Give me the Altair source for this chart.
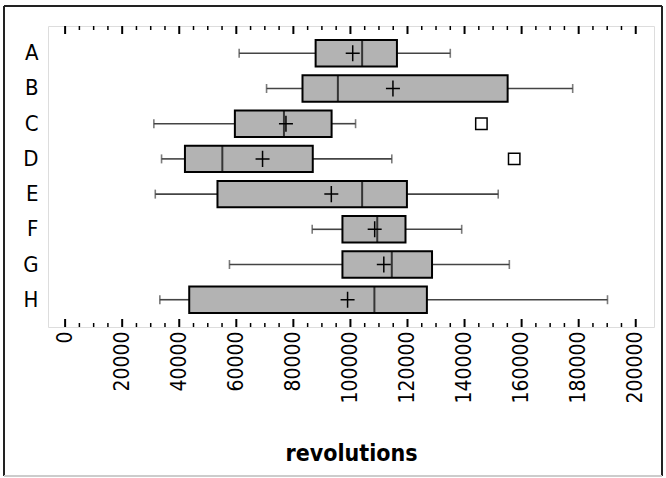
import altair as alt
import pandas as pd

categories = ["A", "B", "C", "D", "E", "F", "G", "H"]
whisker_low = [61000, 70600, 31100, 33800, 31600, 86600, 57600, 33200]
q1 = [87800, 83200, 59500, 42000, 53400, 97200, 97200, 43500]
median = [104100, 95600, 76700, 55100, 104100, 109400, 114500, 108400]
q3 = [116300, 155100, 93400, 86800, 119800, 119300, 128600, 126800]
whisker_high = [135000, 177900, 101800, 114500, 151800, 139000, 155700, 190100]
mean = [100800, 114900, 77400, 69200, 93300, 108500, 111700, 99000]

outlier_cat = ["C", "D"]
outlier_val = [145900, 157400]

major_ticks = list(range(0, 200001, 20000))
minor_ticks = [v for v in range(0, 200001, 5000) if v % 20000 != 0]

FONT = "DejaVu Sans Condensed, DejaVu Sans"
W, H = 606, 301

df = pd.DataFrame({
    "cat": categories, "wlo": whisker_low, "q1": q1, "med": median,
    "q3": q3, "whi": whisker_high, "mean": mean,
})
out_df = pd.DataFrame({"cat": outlier_cat, "val": outlier_val})

xscale = alt.Scale(domain=[-6000, 206400], nice=False, zero=False)
yscale = alt.Scale(domain=categories, paddingInner=0.25, paddingOuter=0.4)

xaxis = alt.Axis(
    values=major_ticks, format="d", labelAngle=270, labelFontSize=21,
    labelFont=FONT, labelColor="black", labelPadding=4, ticks=False,
    tickSize=0, domain=False, grid=False, title="revolutions",
    titleFont=FONT, titleFontSize=23, titleFontWeight="bold",
    titleColor="black", titlePadding=39,
)
yaxis = alt.Axis(
    title=None, labelFontSize=22, labelFont=FONT, labelColor="black",
    ticks=False, tickSize=0, domain=False, grid=False, labelPadding=10,
)

base = alt.Chart(df)

x_enc = lambda f: alt.X(f, type="quantitative", scale=xscale, axis=xaxis)
y_enc = alt.Y("cat:N", scale=yscale, axis=yaxis, sort=categories)

whisk_lo = base.mark_rule(color="#444444", strokeWidth=1.6).encode(
    x=x_enc("wlo"), x2="q1", y=y_enc)
whisk_hi = base.mark_rule(color="#444444", strokeWidth=1.6).encode(
    x=x_enc("q3"), x2="whi", y=y_enc)
cap_lo = base.mark_tick(color="#444444", size=9, thickness=1.6).encode(
    x=x_enc("wlo"), y=y_enc)
cap_hi = base.mark_tick(color="#444444", size=9, thickness=1.6).encode(
    x=x_enc("whi"), y=y_enc)
box = base.mark_bar(fill="#b3b3b3", stroke="black", strokeWidth=2).encode(
    x=x_enc("q1"), x2="q3", y=y_enc)
med = base.mark_tick(color="black", size=26, thickness=2).encode(
    x=x_enc("med"), y=y_enc)
mean_pt = base.mark_point(
    shape="M-1,0H1M0,-1.15V1.15", size=196, filled=False, color="black",
    strokeWidth=1.5, opacity=1).encode(x=x_enc("mean"), y=y_enc)
outl = alt.Chart(out_df).mark_point(
    shape="square", size=130, filled=True, fill="white", stroke="black",
    strokeWidth=1.5, opacity=1).encode(
    x=x_enc("val"), y=alt.Y("cat:N", scale=yscale, axis=yaxis, sort=categories))

major_df = pd.DataFrame({"v": major_ticks})
minor_df = pd.DataFrame({"v": minor_ticks})

def tick_layer(d, y1, y2, w):
    return alt.Chart(d).mark_rule(color="black", strokeWidth=w).encode(
        x=x_enc("v"), y=alt.value(y1), y2=alt.value(y2))

ticks = [
    tick_layer(major_df, 0, 8, 2), tick_layer(minor_df, 0, 4, 1.5),
    tick_layer(major_df, H, H - 8, 2), tick_layer(minor_df, H, H - 4, 1.5),
]

one = alt.Data(values=[{"a": 1}])
border = [
    alt.Chart(one).mark_rule(color="#222222", strokeWidth=2).encode(
        x=alt.value(-44), x2=alt.value(614), y=alt.value(-20)),
    alt.Chart(one).mark_rule(color="#222222", strokeWidth=2).encode(
        x=alt.value(-44), y=alt.value(-20), y2=alt.value(450)),
    alt.Chart(one).mark_rule(color="#222222", strokeWidth=2).encode(
        x=alt.value(614), y=alt.value(-20), y2=alt.value(450)),
    alt.Chart(one).mark_rule(color="#cccccc", strokeWidth=2).encode(
        x=alt.value(-44), x2=alt.value(614), y=alt.value(450)),
]

chart = alt.layer(
    whisk_lo, whisk_hi, cap_lo, cap_hi, box, med, mean_pt, outl, *ticks, *border
).properties(
    width=W, height=H,
    autosize=alt.AutoSizeParams(type="none"),
    padding={"left": 48, "top": 26, "right": 12, "bottom": 151},
).configure_view(
    stroke="black", strokeWidth=2
).configure(background="white")

chart.save("out.html", embed_options={"renderer": "svg", "actions": False})
